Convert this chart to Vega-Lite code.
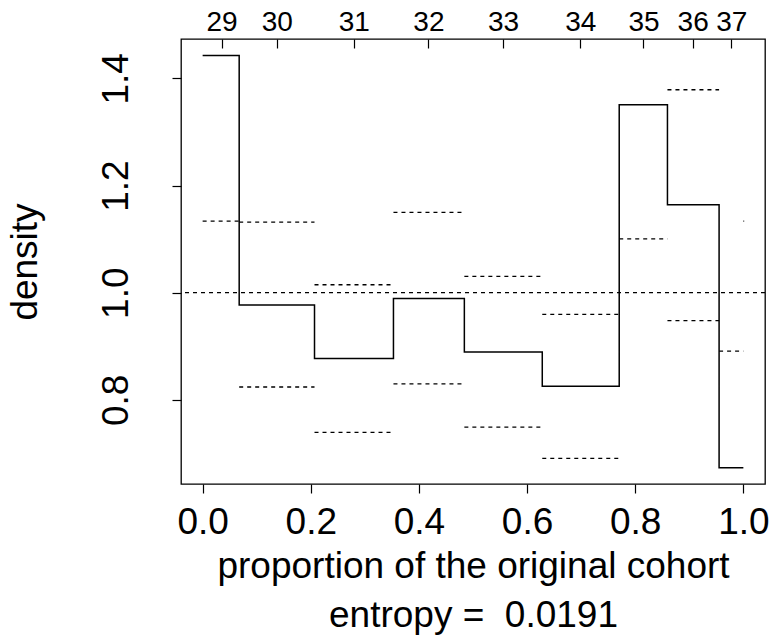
{
  "$schema": "https://vega.github.io/schema/vega-lite/v6.json",
  "width": 584,
  "height": 445,
  "autosize": {"type": "none"},
  "padding": {"left": 181, "top": 39, "right": 9, "bottom": 157},
  "background": "white",
  "config": {
    "view": {"stroke": "black", "strokeWidth": 1.3},
    "font": "Liberation Sans"
  },
  "datasets": {
    "steps": [
      {"x": 0, "y": 1.4427},
      {"x": 0.0676, "y": 0.9769},
      {"x": 0.2069, "y": 0.877},
      {"x": 0.3529, "y": 0.9894},
      {"x": 0.484, "y": 0.8893},
      {"x": 0.6281, "y": 0.8254},
      {"x": 0.7704, "y": 1.351},
      {"x": 0.8596, "y": 1.164},
      {"x": 0.9551, "y": 0.6732},
      {"x": 1.0, "y": 0.6732}
    ],
    "bounds": [
      {"x0": 0, "x1": 0.0676, "y": 1.1336},
      {"x0": 0.0676, "x1": 0.2069, "y": 1.1317},
      {"x0": 0.0676, "x1": 0.2069, "y": 0.824},
      {"x0": 0.2069, "x1": 0.3529, "y": 1.0149},
      {"x0": 0.2069, "x1": 0.3529, "y": 0.7394},
      {"x0": 0.3529, "x1": 0.484, "y": 1.15},
      {"x0": 0.3529, "x1": 0.484, "y": 0.83},
      {"x0": 0.484, "x1": 0.6281, "y": 1.0304},
      {"x0": 0.484, "x1": 0.6281, "y": 0.749},
      {"x0": 0.6281, "x1": 0.7704, "y": 0.9595},
      {"x0": 0.6281, "x1": 0.7704, "y": 0.691},
      {"x0": 0.7704, "x1": 0.8596, "y": 1.1006},
      {"x0": 0.8596, "x1": 0.9551, "y": 1.3788},
      {"x0": 0.8596, "x1": 0.9551, "y": 0.948},
      {"x0": 0.9551, "x1": 1.0, "y": 0.891},
      {"x0": 1.0, "x1": 1.0015, "y": 1.1336}
    ],
    "ref": [{"y": 1.0}]
  },
  "resolve": {"axis": {"x": "independent"}},
  "encoding": {
    "y": {
      "field": "y", "type": "quantitative",
      "scale": {"domain": [0.643, 1.4735], "nice": false, "zero": false},
      "axis": {
        "orient": "left",
        "values": [0.8, 1.0, 1.2, 1.4],
        "format": ".1f",
        "domain": false,
        "grid": false,
        "tickSize": 9,
        "tickColor": "black",
        "tickWidth": 1.2,
        "labelFont": "Liberation Sans",
        "labelFontSize": 37,
        "labelColor": "black",
        "labelAngle": -90,
        "labelBaseline": "alphabetic",
        "labelAlign": "center",
        "labelPadding": 45,
        "labelFlush": false,
        "labelOverlap": false,
        "labelBound": false,
        "title": "density",
        "titleFont": "Liberation Sans",
        "titleFontSize": 37,
        "titleFontWeight": "normal",
        "titleColor": "black",
        "titleAngle": -90,
        "titleBaseline": "alphabetic",
        "titleX": -145
      }
    }
  },
  "layer": [
    {
      "data": {"name": "ref"},
      "mark": {"type": "rule", "color": "black", "strokeWidth": 1.3, "strokeDash": [4, 4]},
      "encoding": {}
    },
    {
      "data": {"name": "bounds"},
      "mark": {"type": "rule", "color": "black", "strokeWidth": 1.3, "strokeDash": [4, 4]},
      "encoding": {
        "x": {
          "field": "x0", "type": "quantitative",
          "scale": {"domain": [-0.04, 1.04], "nice": false, "zero": false},
          "axis": {
            "orient": "top",
            "values": [0.0351, 0.1373, 0.2796, 0.4176, 0.5554, 0.6984, 0.8153, 0.9063, 0.9777],
            "labelExpr": "indexof([0.0351, 0.1373, 0.2796, 0.4176, 0.5554, 0.6984, 0.8153, 0.9063, 0.9777], datum.value) + 29",
            "title": null,
            "domain": false,
            "grid": false,
            "ticks": true,
            "tickSize": -9,
            "tickColor": "black",
            "tickWidth": 1.2,
            "labelFont": "Liberation Sans",
            "labelFontSize": 28,
            "labelColor": "black",
            "labelBaseline": "alphabetic",
            "labelAlign": "center",
            "labelPadding": 17.6,
            "labelFlush": false,
            "labelOverlap": false,
            "labelBound": false
          }
        },
        "x2": {"field": "x1"}
      }
    },
    {
      "data": {"name": "steps"},
      "mark": {"type": "line", "interpolate": "step-after", "color": "black", "strokeWidth": 1.5},
      "encoding": {
        "x": {
          "field": "x", "type": "quantitative",
          "axis": {
            "orient": "bottom",
            "values": [0, 0.2, 0.4, 0.6, 0.8, 1.0],
            "format": ".1f",
            "domain": false,
            "grid": false,
            "tickSize": 9,
            "tickColor": "black",
            "tickWidth": 1.2,
            "labelFont": "Liberation Sans",
            "labelFontSize": 37,
            "labelColor": "black",
            "labelBaseline": "alphabetic",
            "labelAlign": "center",
            "labelPadding": 40,
            "labelFlush": false,
            "labelOverlap": false,
            "labelBound": false,
            "title": ["proportion of the original cohort", "entropy = \u00a00.0191"],
            "titleFont": "Liberation Sans",
            "titleFontSize": 37,
            "titleFontWeight": "normal",
            "titleColor": "black",
            "titleBaseline": "alphabetic",
            "titleY": 93,
            "titleLineHeight": 49.4
          }
        }
      }
    }
  ]
}
